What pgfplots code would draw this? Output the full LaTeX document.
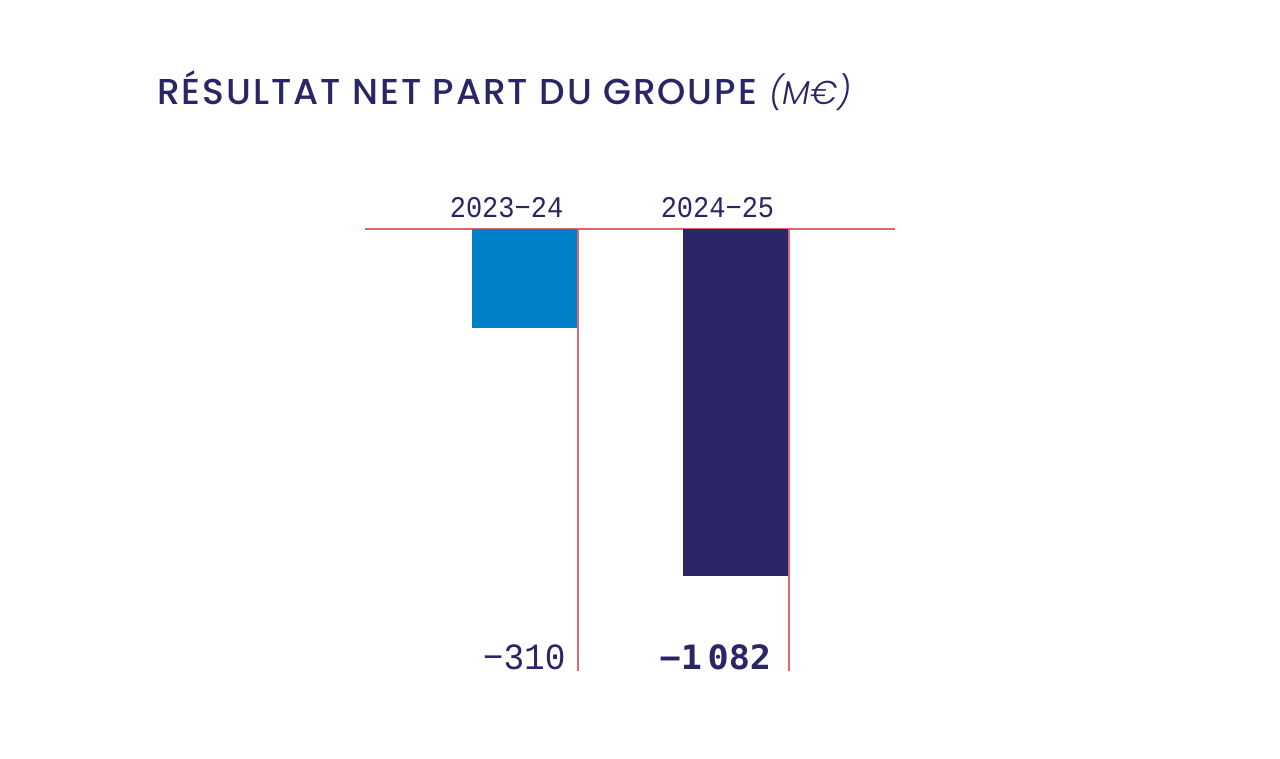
\documentclass[border=0pt]{standalone}
\usepackage{pgfplots}
\pgfplotsset{compat=1.18}
\usepackage{fontspec}
\setmainfont{Poppins}
\newfontfamily\titlefont[LetterSpace=5.5]{Poppins Medium}
\newfontfamily\unitfont[ItalicFont={Poppins Light Italic}]{Poppins Light}
\newfontfamily\monofont[FakeStretch=1.05]{DejaVu Sans Mono}
\newfontfamily\ticksmono[FakeStretch=0.9]{Liberation Mono}
\newfontfamily\valmono[FakeStretch=0.93]{Liberation Mono}
\definecolor{navy}{HTML}{2A2566}
\definecolor{blue}{HTML}{0080C9}
\definecolor{redl}{HTML}{E0666F}
\begin{document}
\begin{tikzpicture}[x=1pt,y=1pt]
\useasboundingbox (0,0) rectangle (1280,758);
\begin{axis}[
  at={(365pt,87pt)}, anchor=south west,
  scale only axis, width=530pt, height=442pt,
  xmin=-0.756, xmax=1.756, ymin=-1378, ymax=0,
  axis x line=top, axis y line=none,
  x axis line style={color=redl, line width=1.6pt, -},
  xtick={0,1}, xticklabels={2023−24,2024−25},
  major tick length=0pt,
  xticklabel style={font=\fontsize{30}{30}\ticksmono, text=navy, yshift=8pt, xshift=-18pt},
  ytick=\empty,
  clip=false,
]
\addplot[ybar, bar width=105pt, bar shift=0pt, fill=blue, draw=none] coordinates {(0,-310)};
\addplot[ybar, bar width=105pt, bar shift=0pt, fill=navy, draw=none] coordinates {(1,-1082)};
\addplot[color=redl, line width=1.8pt] coordinates {(0.2535,0) (0.2535,-1378)};
\addplot[color=redl, line width=1.8pt] coordinates {(1.2535,0) (1.2535,-1378)};
\node[anchor=base east, inner sep=0pt, text=navy, font=\fontsize{37}{37}\valmono] at (axis cs:0.195,-1372) {−310};
\node[anchor=base east, inner sep=0pt, text=navy, font=\fontsize{33.5}{33.5}\monofont\bfseries] at (axis cs:1.170,-1372) {−1\,082};
\end{axis}
\node[anchor=base west, inner sep=0pt, text=navy] at (157,653) {\fontsize{36}{36}\selectfont\titlefont RÉSULTAT NET PART DU GROUPE\hspace{12pt}\fontsize{33}{33}\selectfont\unitfont\itshape (M€)};
\end{tikzpicture}
\end{document}
